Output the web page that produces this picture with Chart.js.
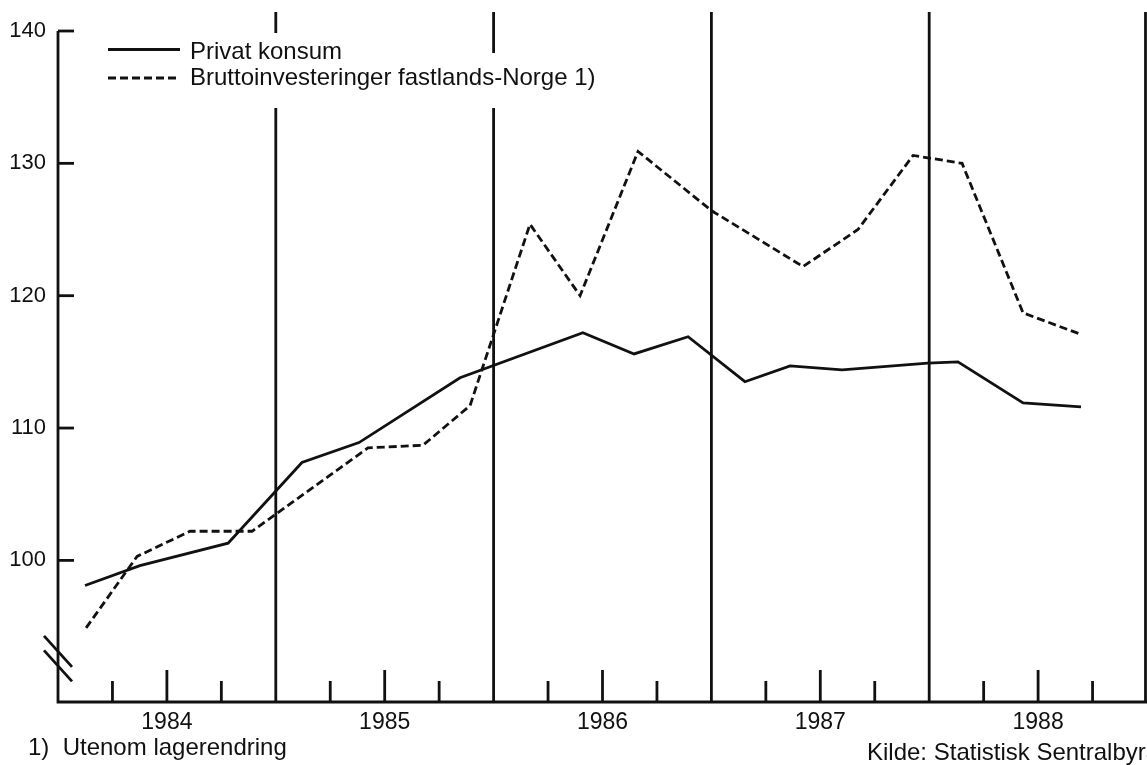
<!DOCTYPE html>
<html>
<head>
<meta charset="utf-8">
<script src="https://cdn.jsdelivr.net/npm/chart.js@4.4.1/dist/chart.umd.min.js"></script>
<style>
  html, body { margin: 0; padding: 0; background: #ffffff; }
  canvas { display: block; }
</style>
</head>
<body>
<canvas id="c" width="1147" height="765"></canvas>
<script>
// ---- Data ----
const seriesNames = ['Privat konsum', 'Bruttoinvesteringer fastlands-Norge 1)'];

// time in decimal years, value = index
const konsumX = [1984.124, 1984.376, 1984.781, 1985.120, 1985.382, 1985.846, 1986.410, 1986.645,
                 1986.893, 1987.154, 1987.361, 1987.600, 1987.994, 1988.132, 1988.431, 1988.697];
const konsumY = [98.1, 99.6, 101.3, 107.4, 108.9, 113.8, 117.2, 115.6,
                 116.9, 113.5, 114.7, 114.4, 114.9, 115.0, 111.9, 111.6];

const investX = [1984.129, 1984.363, 1984.606, 1984.891, 1985.423, 1985.676, 1985.892, 1986.167,
                 1986.397, 1986.663, 1987.003, 1987.421, 1987.673, 1987.926, 1988.151, 1988.431, 1988.693];
const investY = [94.9, 100.3, 102.2, 102.2, 108.5, 108.7, 111.7, 125.4,
                 120.0, 130.9, 126.4, 122.2, 125.0, 130.6, 130.0, 118.7, 117.1];

const years = [1984, 1985, 1986, 1987, 1988];
const yearLabels = ['1984', '1985', '1986', '1987', '1988'];
const yTickValues = [100, 110, 120, 130, 140];
const footnoteText = '1)  Utenom lagerendring';
const sourceText = 'Kilde: Statistisk Sentralbyrå';

// ---- Styling ----
const INK = '#111111';
const FONT = '"Liberation Sans", Arial, Helvetica, sans-serif';
const DASH = [8, 4];
const LW = 2.8;

const decor = {
  id: 'decor',
  beforeDatasetsDraw(chart) {
    const { ctx, chartArea: a, scales: { x, y } } = chart;
    ctx.save();
    ctx.strokeStyle = INK;
    ctx.lineCap = 'butt';
    ctx.lineWidth = LW;

    // axes
    ctx.beginPath();
    ctx.moveTo(a.left, y.getPixelForValue(yTickValues[yTickValues.length - 1]));
    ctx.lineTo(a.left, a.bottom);
    ctx.lineTo(a.right, a.bottom);
    ctx.stroke();

    // y ticks, pointing inward
    yTickValues.forEach(v => {
      const p = y.getPixelForValue(v);
      ctx.beginPath();
      ctx.moveTo(a.left, p);
      ctx.lineTo(a.left + 16, p);
      ctx.stroke();
    });

    // quarter ticks on x axis, pointing up
    years.forEach(yr => {
      [0.25, 0.5, 0.75].forEach(f => {
        const p = x.getPixelForValue(yr + f);
        const len = f === 0.5 ? 32 : 21;
        ctx.beginPath();
        ctx.moveTo(p, a.bottom);
        ctx.lineTo(p, a.bottom - len);
        ctx.stroke();
      });
    });

    // year boundary lines (interrupted by the legend for the first two)
    const gaps = { 1985: [33, 108], 1986: [53, 108] };
    years.forEach(yr => {
      const b = yr + 1;
      let p = x.getPixelForValue(b);
      if (p >= chart.width) p = chart.width - 1.5;
      const top = 12;
      ctx.beginPath();
      if (gaps[b]) {
        ctx.moveTo(p, top); ctx.lineTo(p, gaps[b][0]);
        ctx.moveTo(p, gaps[b][1]); ctx.lineTo(p, a.bottom);
      } else {
        ctx.moveTo(p, top); ctx.lineTo(p, a.bottom);
      }
      ctx.stroke();
    });

    // axis break marks //
    [94.3, 93.2].forEach(v => {
      const p = y.getPixelForValue(v);
      ctx.beginPath();
      ctx.moveTo(a.left - 14, p);
      ctx.lineTo(a.left + 14, p + 31);
      ctx.stroke();
    });
    ctx.restore();
  },
  afterDraw(chart) {
    const { ctx, chartArea: a } = chart;
    const ds = chart.data.datasets;
    ctx.save();
    ctx.fillStyle = INK;
    ctx.strokeStyle = INK;
    ctx.font = '24px ' + FONT;
    ctx.textBaseline = 'middle';
    ctx.textAlign = 'left';
    const rows = [{ ly: 49.5, ty: 52 }, { ly: 78, ty: 78 }];
    ds.forEach((d, i) => {
      ctx.lineWidth = d.borderWidth;
      ctx.setLineDash(d.borderDash || []);
      ctx.beginPath();
      ctx.moveTo(a.left + 50, rows[i].ly);
      ctx.lineTo(a.left + 122, rows[i].ly);
      ctx.stroke();
      ctx.fillText(d.label, a.left + 132, rows[i].ty);
    });
    ctx.setLineDash([]);
    ctx.textBaseline = 'alphabetic';
    ctx.fillText(footnoteText, 28, 755);
    ctx.fillText(sourceText, 867, 760);
    ctx.restore();
  }
};

new Chart(document.getElementById('c'), {
  type: 'line',
  data: {
    datasets: [
      {
        label: seriesNames[0],
        data: konsumX.map((v, i) => ({ x: v, y: konsumY[i] })),
        borderColor: INK,
        borderWidth: LW,
        pointRadius: 0,
        tension: 0,
        fill: false
      },
      {
        label: seriesNames[1],
        data: investX.map((v, i) => ({ x: v, y: investY[i] })),
        borderColor: INK,
        borderWidth: LW,
        borderDash: DASH,
        pointRadius: 0,
        tension: 0,
        fill: false
      }
    ]
  },
  options: {
    responsive: false,
    animation: false,
    devicePixelRatio: 1,
    layout: { padding: { top: 31, right: 0, bottom: 0, left: 0 } },
    plugins: { legend: { display: false }, tooltip: { enabled: false } },
    scales: {
      x: {
        type: 'linear',
        min: years[0],
        max: years[years.length - 1] + 1,
        grid: { display: false, drawTicks: false },
        border: { display: false },
        afterBuildTicks(scale) { scale.ticks = years.map(v => ({ value: v + 0.5 })); },
        afterFit(scale) { scale.height = 63; },
        ticks: {
          autoSkip: false,
          maxRotation: 0,
          padding: 7,
          color: INK,
          font: { family: FONT, size: 23 },
          callback: (v) => yearLabels[years.indexOf(Math.floor(v))]
        }
      },
      y: {
        type: 'linear',
        min: 89.3,
        max: 140,
        grid: { display: false, drawTicks: false },
        border: { display: false },
        afterBuildTicks(scale) { scale.ticks = yTickValues.map(v => ({ value: v })); },
        afterFit(scale) { scale.width = 58; },
        ticks: {
          padding: 12,
          color: INK,
          font: { family: FONT, size: 22 },
          callback: (v) => String(v)
        }
      }
    }
  },
  plugins: [decor]
});
</script>
</body>
</html>
